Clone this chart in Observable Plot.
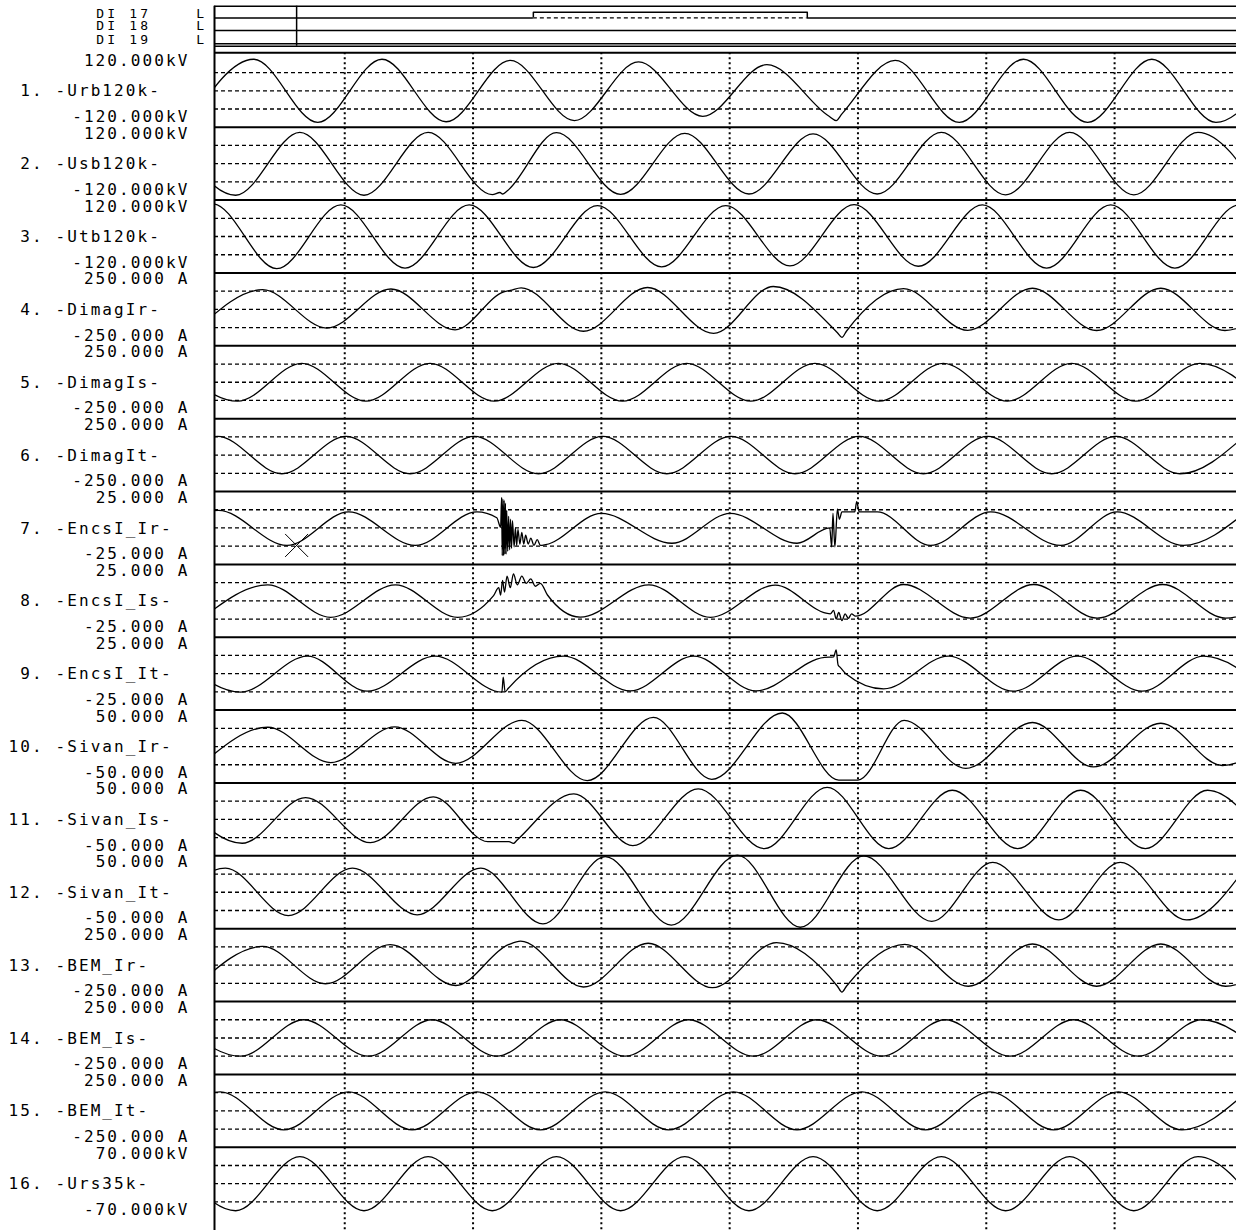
<!DOCTYPE html>
<html><head><meta charset="utf-8">
<script src="https://cdn.jsdelivr.net/npm/d3@7"></script>
<script src="https://cdn.jsdelivr.net/npm/@observablehq/plot@0.6"></script>
<style>
html,body{margin:0;padding:0;background:#fff;}
#chart svg{display:block;}
</style></head><body><div id="chart"></div>
<script>
// ---------- channel metadata ----------
const channelNames = ["Urb120k","Usb120k","Utb120k","DimagIr","DimagIs","DimagIt","EncsI_Ir","EncsI_Is","EncsI_It","Sivan_Ir","Sivan_Is","Sivan_It","BEM_Ir","BEM_Is","BEM_It","Urs35k"];
const fullScale = [120,120,120,250,250,250,25,25,25,50,50,50,250,250,250,70];
const topLabels = ["120.000kV","120.000kV","120.000kV","250.000 A","250.000 A","250.000 A","25.000 A","25.000 A","25.000 A","50.000 A","50.000 A","50.000 A","250.000 A","250.000 A","250.000 A","70.000kV"];
const bottomLabels = ["-120.000kV","-120.000kV","-120.000kV","-250.000 A","-250.000 A","-250.000 A","-25.000 A","-25.000 A","-25.000 A","-50.000 A","-50.000 A","-50.000 A","-250.000 A","-250.000 A","-250.000 A","-70.000kV"];
const gridTimes = [20,40,60,80,100,120,140];   // ms, one cycle per division

// ---------- digital channels ----------
const diNames = ["DI 17","DI 18","DI 19"];
const di17 = [[-0.3,0],[49.4,1],[92.1,0],[160,0]];
const di18 = [[-0.3,0],[160,0]];
const di19 = [[-0.3,0],[160,0]];
const cursorTime = 12.5;      // ms
const cursorChannel = 7;
const cursorValue = -12;      // A on EncsI_Ir

// ---------- analog waveforms: [time ms, value] at extrema / events ----------
const ch01 = [[-4.2,-104],[5.8,104],[15.8,-104],[25.8,104],[35.8,-102],[45.8,100],[55.8,-98],[65.8,95],[75.8,-84],[85.8,86],[95.5,-84],[96.6,-98],[97.5,-76],[105.8,100],[115.8,-104],[125.8,104],[135.8,-104],[145.8,104],[155.8,-104],[165.8,104]];
const ch02 = [[-7.0,102],[3.0,-104],[13.0,103],[23.0,-104],[33.0,103],[43.0,-102],[44.2,-95],[44.6,-100],[45.3,-90],[53.0,102],[63.0,-101],[73.0,100],[83.0,-100],[93.0,98],[103.0,-100],[113.0,103],[123.0,-103],[133.0,103],[143.0,-103],[153.0,103],[163.0,-103]];
const ch03 = [[-10.6,-104],[-0.6,108],[9.4,-106],[19.4,104],[29.4,-104],[39.4,104],[49.4,-102],[59.4,102],[69.4,-100],[79.4,102],[89.4,-97],[99.4,105],[109.4,-98],[119.4,104],[129.4,-104],[139.4,104],[149.4,-104],[159.4,104],[169.4,-104]];
const ch04 = [[-2.8,-128],[7.2,135],[17.2,-128],[27.2,140],[37.2,-140],[44.8,120],[45.8,130],[47.5,148],[57.2,-150],[67.2,150],[77.5,-165],[86.8,157],[96.8,-160],[97.5,-192],[98.2,-150],[107.1,142],[117.1,-144],[127.2,145],[137.2,-145],[147.2,145],[157.2,-145],[167.2,145]];
const ch05 = [[-6.7,128],[3.3,-130],[13.3,130],[23.3,-130],[33.3,130],[43.3,-130],[53.3,130],[63.3,-130],[73.3,130],[83.3,-130],[93.3,130],[103.3,-130],[113.3,130],[123.3,-130],[133.3,130],[143.3,-130],[153.3,130],[163.3,-130]];
const ch06 = [[-9.8,-128],[0.2,128],[10.2,-128],[20.2,128],[30.2,-128],[40.2,128],[50.2,-128],[60.2,128],[70.2,-128],[80.2,128],[90.2,-128],[100.2,128],[110.2,-128],[120.2,128],[130.2,-128],[140.2,128],[150.2,-128],[160.2,128]];
const ch07 = [[-10,-11],[0.3,12],[11.0,-12],[20.6,11],[31.0,-12],[40.6,11],[43.7,7],[44.3,0.5],[44.45,21],[44.55,-19],[44.65,20],[44.75,-19],[44.85,19],[44.95,-18],[45.05,17],[45.15,-18],[45.25,12],[45.4,-16],[45.55,8],[45.7,-15],[45.85,6],[46.0,-14],[46.15,5],[46.4,-13],[46.6,0],[46.8,-12],[47.0,-1],[47.3,-11],[47.6,-3],[47.9,-11],[48.2,-5],[48.6,-11],[49.0,-7],[49.5,-12],[50.0,-8],[50.5,-12],[51.3,-11.5],[60.0,10],[71.0,-10.5],[80.1,10],[90.5,-10.5],[95.6,0],[95.9,-13],[96.1,10],[96.4,-13],[96.8,13],[97.1,6],[97.5,11],[99.5,11],[99.8,18],[100.2,11],[103,11],[111.3,-12],[120.7,11],[131.6,-12],[140.4,11],[150.7,-12],[160.5,11]];
const ch08 = [[-2,-11],[8.0,11],[17.8,-11.3],[27.9,11],[37.6,-11.3],[43.2,3.6],[44.0,9],[44.3,4],[44.6,14],[44.9,6],[45.3,17],[45.8,9],[46.3,18.5],[46.9,11],[47.6,17],[48.3,12],[49.0,15],[49.7,10],[50.5,12],[51.6,4],[56.7,-11.2],[67.4,11],[77.0,-11.3],[87.1,10.8],[95.7,-8.9],[96.2,-6.5],[96.6,-12.5],[97.0,-8],[97.5,-13.5],[98.0,-9],[98.5,-12],[99.0,-9],[99.6,-10.5],[107.1,11.2],[117.5,-11.9],[127.4,11.2],[137.3,-11.9],[147.5,11.2],[157.3,-11.9],[167.3,11]];
const ch09 = [[-6.3,12],[3.75,-12.7],[14.2,12],[23.5,-12],[34.1,12],[44.5,-12.7],[44.7,-2.4],[45.0,-12.5],[45.5,-10],[54.1,12],[64.5,-11.8],[74.4,12],[84.1,-11.8],[94.8,11.2],[96.2,11.5],[96.6,16.3],[96.9,6],[97.3,4],[98.1,0],[104.0,-10.4],[114.1,12],[124.2,-12],[134.2,12],[144.3,-12],[153.9,12],[163.9,-12]];
const ch10 = [[-2,-22],[8.0,26.5],[17.8,-22],[27.8,27],[37.3,-23],[47.6,36],[57.8,-46.7],[68.1,40],[77.2,-45],[88.2,46],[97.0,-46],[100.0,-46],[107.2,36],[116.8,-30],[127.2,33],[136.7,-28],[147.2,32],[156.8,-26],[167,30]];
const ch11 = [[-6,28],[4.0,-32.7],[13.9,30],[24.0,-32],[33.8,31],[42.3,-30.5],[45.6,-30.5],[46.3,-33],[46.8,-29],[55.7,35],[64.9,-36],[75.1,42],[85.4,-40],[95.2,44],[104.8,-40],[114.7,40],[124.9,-40],[134.7,40],[144.8,-40],[154.5,40],[164.5,-40]];
const ch12 = [[-8.6,-32],[1.4,33],[11.2,-32],[21.2,33],[31.3,-31],[41.2,33],[50.9,-43.5],[60.6,49],[70.9,-45],[81.2,51],[91.0,-48],[100.9,50],[111.5,-40],[121.0,41],[131.3,-38],[140.9,41],[151.2,-38],[161,41]];
const ch13 = [[-2.8,-128],[7.2,128],[17.0,-128],[27.1,140],[37.3,-140],[45.5,140],[47.4,165],[57.2,-150],[67.3,150],[77.3,-155],[87.3,155],[96.8,-145],[97.5,-185],[98.2,-145],[107.3,143],[117.2,-145],[127.2,145],[137.2,-145],[147.2,145],[157.3,-145],[167.3,145]];
const ch14 = [[-6.4,125],[3.75,-125],[13.6,125],[23.7,-125],[33.6,125],[43.7,-125],[53.6,125],[63.7,-125],[73.6,125],[83.7,-125],[93.6,125],[103.7,-125],[113.6,125],[123.7,-125],[133.6,125],[143.7,-125],[153.6,125],[163.7,-125]];
const ch15 = [[-9.5,-130],[0.6,130],[10.5,-130],[20.6,130],[30.5,-130],[40.6,130],[50.5,-130],[60.6,130],[70.5,-130],[80.6,130],[90.5,-130],[100.6,130],[110.5,-130],[120.6,130],[130.5,-130],[140.6,130],[150.5,-130],[160.6,130]];
const ch16 = [[-7.0,51],[3.0,-52],[13.0,52],[23.0,-52],[33.0,52],[43.0,-52],[53.0,52],[63.0,-52],[73.0,52],[83.0,-52],[93.0,52],[103.0,-52],[113.0,52],[123.0,-52],[133.0,52],[143.0,-52],[153.0,52],[163.0,-52]];
const waves = [ch01,ch02,ch03,ch04,ch05,ch06,ch07,ch08,ch09,ch10,ch11,ch12,ch13,ch14,ch15,ch16];

// ---------- layout (row units: channel n is centred on row n) ----------
const W = 1236, H = 1230, LEFT = 214;
const T0 = -0.3, T1 = 160, XR = 1242.4;
const ROW1 = 90.3, ROW16 = 1183.2;
const DI_ROWS = [0.0, 0.172, 0.355], DI_HIGH = 0.077;
const DI_TOP = -0.161, DI_BOTTOM = 0.388, ANALOG_TOP = 0.478, BOTTOM_ROW = 16.7;

const rows = channelNames.map((_, i) => i + 1);
const toRow = (i, v) => (i + 1) - 0.5 * v / fullScale[i];
const waveData = waves.flatMap((pts, i) => pts.map(([t, v]) => ({ch: i, t, y: toRow(i, v)})));
const diSeries = [di17, di18, di19];
const diData = diSeries.flatMap((pts, k) => pts.map(([t, s]) => ({k, t, y: DI_ROWS[k] - s * DI_HIGH})));
const diHigh = [];
diSeries.forEach((pts, k) => { for (let j = 0; j < pts.length - 1; j++) if (pts[j][1] === 1) diHigh.push({k, t1: pts[j][0], t2: pts[j+1][0]}); });

const dashed = rows.flatMap(r => [r - 0.25, r, r + 0.25]);
const bounds = rows.slice(0, -1).map(r => r + 0.5).concat([ANALOG_TOP]);
const font = {fontFamily: "DejaVu Sans Mono", fontSize: 16};
const diFont = {fontFamily: "DejaVu Sans Mono", fontSize: 13};

const chart = Plot.plot({
  width: W, height: H,
  marginLeft: LEFT, marginRight: 0, marginTop: 0, marginBottom: 0,
  x: {domain: [T0, T1], range: [LEFT, XR], axis: null},
  y: {domain: [1, 16], range: [ROW1, ROW16], axis: null},
  style: {background: "#fff", color: "#000"},
  marks: [
    // analog grid
    Plot.ruleY(dashed, {y: d => d, stroke: "#000", strokeWidth: 1.3, strokeDasharray: "4,3"}),
    Plot.ruleX(gridTimes, {x: d => d, y1: ANALOG_TOP, y2: BOTTOM_ROW, stroke: "#000", strokeWidth: 2, strokeDasharray: "2,3"}),
    Plot.ruleY(bounds, {y: d => d, stroke: "#000", strokeWidth: 2}),
    // digital frame
    Plot.ruleY([DI_TOP, DI_BOTTOM], {y: d => d, stroke: "#000", strokeWidth: 1.5}),
    Plot.ruleX([T0], {x: d => d, y1: DI_TOP, y2: BOTTOM_ROW, stroke: "#000", strokeWidth: 2}),
    Plot.ruleX([cursorTime], {x: d => d, y1: DI_TOP, y2: DI_BOTTOM, stroke: "#000", strokeWidth: 1.5}),
    // digital traces
    Plot.line(diData, {x: "t", y: "y", z: "k", curve: "step-after", stroke: "#000", strokeWidth: 1.5, clip: true}),
    Plot.ruleY(diHigh, {y: d => DI_ROWS[d.k], x1: "t1", x2: "t2", stroke: "#fff", strokeWidth: 2}),
    Plot.ruleY(diHigh, {y: d => DI_ROWS[d.k], x1: "t1", x2: "t2", stroke: "#000", strokeWidth: 1.3, strokeDasharray: "4,3"}),
    // waveforms
    Plot.line(waveData, {x: "t", y: "y", z: "ch", curve: "monotone-x", stroke: "#000", strokeWidth: 1.3, clip: true}),
    Plot.dot([cursorTime], {x: d => d, y: () => toRow(cursorChannel - 1, cursorValue), symbol: "times", r: 10.5, stroke: "#000", strokeWidth: 1}),
    // labels
    Plot.text(rows, {y: r => r - 0.413, text: r => topLabels[r - 1], frameAnchor: "left", dx: -25, textAnchor: "end", ...font}),
    Plot.text(rows, {y: r => r + 0.357, text: r => bottomLabels[r - 1], frameAnchor: "left", dx: -25, textAnchor: "end", ...font}),
    Plot.text(rows, {y: r => r + 0.007, text: r => (r < 10 ? "\u00A0" : "") + r + ". -" + channelNames[r - 1] + "-", frameAnchor: "left", dx: -206, textAnchor: "start", ...font}),
    Plot.text(DI_ROWS, {y: d => d - 0.06, text: (d, i) => diNames[i], frameAnchor: "left", dx: -118.3, textAnchor: "start", ...diFont}),
    Plot.text(DI_ROWS, {y: d => d - 0.06, text: () => "L", frameAnchor: "left", dx: -18.3, textAnchor: "start", ...diFont})
  ]
});
// monospace cell width of the recorder font (~11.7 px per character)
chart.querySelectorAll("g[font-size]").forEach(g => {
  const fs = +g.getAttribute("font-size");
  g.setAttribute("letter-spacing", fs === 13 ? "3.2px" : "2.1px");
});
document.getElementById("chart").appendChild(chart);
</script></body></html>
